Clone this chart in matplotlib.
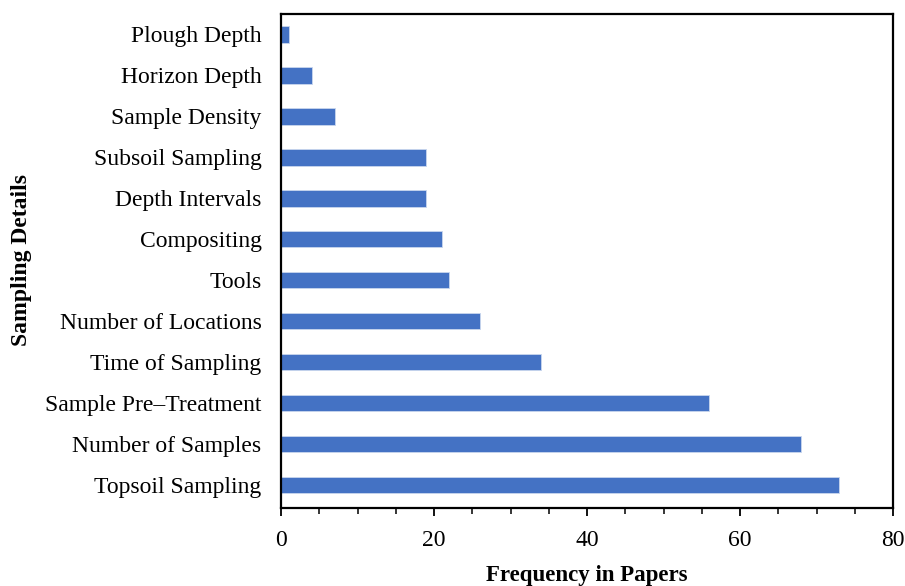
import matplotlib
matplotlib.use("Agg")
import matplotlib.pyplot as plt
from matplotlib.ticker import MultipleLocator

categories = ["Topsoil Sampling", "Number of Samples", "Sample Pre\u2013Treatment",
              "Time of Sampling", "Number of Locations", "Tools", "Compositing",
              "Depth Intervals", "Subsoil Sampling", "Sample Density",
              "Horizon Depth", "Plough Depth"]
values = [73, 68, 56, 34, 26, 22, 21, 19, 19, 7, 4, 1]
xticks = [0, 20, 40, 60, 80]

plt.rcParams['font.family'] = ['Liberation Serif', 'DejaVu Serif']

fig = plt.figure(figsize=(9.05, 5.86), dpi=100)
ax = fig.add_axes([281/905, 1-508/586, (893-281)/905, (508-14)/586])

y = list(range(len(categories)))
ax.barh(y, values, height=0.4, color="#4472C4", edgecolor="#C9D6EE", linewidth=0.6)
ax.set_yticks(y)
ax.set_yticklabels(categories, fontsize=17)
ax.tick_params(axis='y', length=0, pad=14)
ax.set_ylim(-0.56, 11.5)
ax.set_xlim(0, 80)
ax.set_xticks(xticks)
ax.xaxis.set_minor_locator(MultipleLocator(5))
ax.tick_params(axis='x', which='major', length=6, width=1.3, labelsize=17, pad=10, direction='out')
ax.tick_params(axis='x', which='minor', length=4, width=1.1, direction='out')
for s in ax.spines.values():
    s.set_linewidth(1.6)
ax.set_xlabel("Frequency in Papers", fontsize=16.5, fontweight='bold', labelpad=10)
fig.text(21/905, 1-260/586, "Sampling Details", fontsize=17, fontweight='bold',
         rotation=90, ha='center', va='center')

fig.savefig("out.png", dpi=100)
